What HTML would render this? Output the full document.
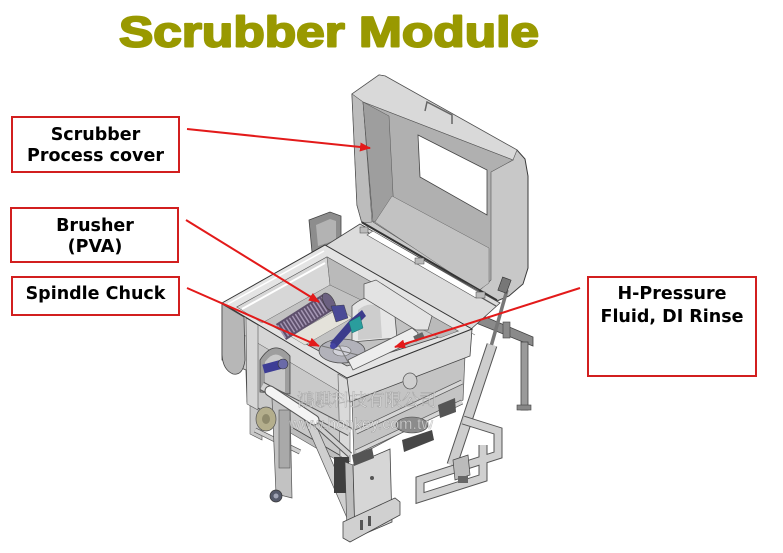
<!DOCTYPE html>
<html><head><meta charset="utf-8"><style>
html,body{margin:0;padding:0;background:#fff;}
svg{display:block;}
</style></head><body>
<svg width="783" height="553" viewBox="0 0 783 553" xmlns="http://www.w3.org/2000/svg">
<defs>
<marker id="ah" markerUnits="userSpaceOnUse" markerWidth="11" markerHeight="9" refX="10" refY="4.5" orient="auto">
<path d="M0,0 L11,4.5 L0,9 z" fill="#e31a1a"/>
</marker>
</defs>
<rect width="783" height="553" fill="#fff"/>

<!-- Title -->
<text x="119" y="46.5" font-family="Liberation Sans, Arial, sans-serif" font-weight="bold" font-size="43" fill="#999900" stroke="#999900" stroke-width="2" stroke-linejoin="round" textLength="420" lengthAdjust="spacingAndGlyphs">Scrubber Module</text>

<!-- back frames -->
<polygon points="309,220 330,212 341,216 341,246 312,252" fill="#8d8d8d" stroke="#444" stroke-width="0.8"/>
<polygon points="316,225 330,219 336,221 336,240 318,246" fill="#b3b3b3"/>
<polygon points="476,313 533,337 533,346 476,323" fill="#8a8a8a" stroke="#444" stroke-width="0.8"/>
<rect x="521" y="342" width="7" height="68" fill="#9a9a9a" stroke="#444" stroke-width="0.8"/>
<rect x="517" y="405" width="14" height="5" fill="#888" stroke="#444" stroke-width="0.6"/>
<rect x="503" y="322" width="7" height="16" fill="#8a8a8a" stroke="#444" stroke-width="0.6"/>

<!-- Lid -->
<polygon points="352,94 379,75 385,76 517,150 525,159 528,176 528,268 523,284 509,296 497,301 362,223 357,205" fill="#c8c8c8" stroke="#3a3a3a" stroke-width="1"/>
<polygon points="352,94 379,75 385,76 517,150 513,160 363,102" fill="#d9d9d9" stroke="#555" stroke-width="0.6"/>
<polygon points="352,94 363,102 372,222 362,223 357,205" fill="#bcbcbc" stroke="#555" stroke-width="0.5"/>
<polygon points="363,102 513,160 491,172 491,280 480,290 373,222" fill="#b0b0b0" stroke="#555" stroke-width="0.6"/>
<polygon points="363,102 389,116 394,213 373,222" fill="#9e9e9e" stroke="#555" stroke-width="0.5"/>
<polygon points="392,196 489,248 489,283 478,291 375,222" fill="#c2c2c2" stroke="#666" stroke-width="0.5"/>
<polygon points="418,135 487,170 487,215 420,177" fill="#fff" stroke="#444" stroke-width="0.8"/>
<polyline points="425,111 427,102 452,115 452,124" fill="none" stroke="#666" stroke-width="1.5"/>
<line x1="362" y1="222" x2="497" y2="300" stroke="#333" stroke-width="1.5"/>

<!-- platform -->
<polygon points="325,246 360,224 500,303 470,330" fill="#dcdcdc" stroke="#444" stroke-width="0.8"/>
<line x1="360" y1="228" x2="496" y2="306" stroke="#555" stroke-width="1.2"/>
<polygon points="367,235 373,231 482,294 476,298" fill="#fff" stroke="#555" stroke-width="0.6"/>
<rect x="360" y="227" width="8" height="6" fill="#bbb" stroke="#444" stroke-width="0.5"/>
<rect x="415" y="258" width="9" height="6" fill="#bbb" stroke="#444" stroke-width="0.5"/>
<rect x="476" y="292" width="9" height="6" fill="#bbb" stroke="#444" stroke-width="0.5"/>
<line x1="330" y1="252" x2="475" y2="335" stroke="#777" stroke-width="0.7"/>

<!-- under right face frame -->
<polygon points="352,400 465,355 463,400 354,458" fill="#c4c4c4" stroke="#555" stroke-width="0.7"/>
<polyline points="356,432 462,382" fill="none" stroke="#555" stroke-width="5"/>
<polyline points="356,432 462,382" fill="none" stroke="#d6d6d6" stroke-width="3.5"/>
<polyline points="356,452 462,402" fill="none" stroke="#555" stroke-width="5"/>
<polyline points="356,452 462,402" fill="none" stroke="#d6d6d6" stroke-width="3.5"/>
<ellipse cx="412" cy="425" rx="16" ry="8" fill="#8c8c8c" stroke="#444" stroke-width="0.6"/>
<polygon points="402,440 432,430 434,440 404,452" fill="#474747"/>
<polygon points="438,405 455,398 456,412 440,418" fill="#555"/>

<!-- lower-left frame under left face -->
<polygon points="258,395 340,442 340,462 258,414" fill="#bdbdbd" stroke="#555" stroke-width="0.6"/>
<polygon points="250,398 262,404 262,440 250,434" fill="#c8c8c8" stroke="#555" stroke-width="0.6"/>
<polyline points="255,430 300,452" fill="none" stroke="#555" stroke-width="5"/>
<polyline points="255,430 300,452" fill="none" stroke="#d0d0d0" stroke-width="3.5"/>

<!-- tub left face -->
<polygon points="222,303 347,378 348,460 300,432 258,408 247,402 246,370 222,360" fill="#c9c9c9" stroke="#444" stroke-width="0.8"/>
<polygon points="222,303 347,378 347,396 222,322" fill="#d6d6d6" stroke="#555" stroke-width="0.5"/>
<path d="M222,304 L244,317 L245,360 Q243,376 233,374 Q223,370 222,355 Z" fill="#b7b7b7" stroke="#444" stroke-width="0.8"/>
<polygon points="246,318 258,325 258,410 247,404" fill="#d6d6d6" stroke="#555" stroke-width="0.6"/>
<path d="M260,392 L260,360 Q274,338 290,356 L290,394 Z" fill="#9e9e9e" stroke="#444" stroke-width="0.8"/>
<path d="M265,390 L265,362 Q275,348 285,360 L285,392 Z" fill="#c9c9c9"/>
<rect x="263" y="362" width="20" height="9" fill="#3d3d96" transform="rotate(-15 273 366)"/>
<circle cx="283" cy="364" r="5" fill="#6a6aa8" stroke="#333" stroke-width="0.6"/>
<polygon points="338,374 350,381 350,462 340,456" fill="#dadada" stroke="#555" stroke-width="0.6"/>

<!-- tub right face -->
<polygon points="347,378 472,329 470,356 350,402" fill="#dadada" stroke="#444" stroke-width="0.8"/>
<ellipse cx="410" cy="381" rx="7" ry="8" fill="#cfcfcf" stroke="#555" stroke-width="0.7"/>

<!-- rim & interior -->
<polygon points="222,303 325,245 472,329 347,378" fill="#e4e4e4" stroke="#333" stroke-width="1"/>
<polygon points="237,307 327,257 458,331 347,366" fill="#c2c2c2" stroke="#444" stroke-width="0.8"/>
<polygon points="237,307 327,257 330,285 262,323" fill="#d7d7d7" stroke="#666" stroke-width="0.5"/>
<line x1="242" y1="309" x2="325" y2="263" stroke="#fff" stroke-width="2"/>
<line x1="228" y1="304" x2="324" y2="251" stroke="#fff" stroke-width="1.5"/>
<polygon points="327,257 458,331 440,338 330,285" fill="#bababa" stroke="#666" stroke-width="0.5"/>

<!-- interior parts -->
<polygon points="290,336 340,308 352,318 305,345" fill="#e4e2da" stroke="#777" stroke-width="0.5"/>
<line x1="281" y1="332" x2="328" y2="302" stroke="#5e506c" stroke-width="19"/>
<line x1="281" y1="332" x2="328" y2="302" stroke="#a597b4" stroke-width="15" stroke-dasharray="1.5 2"/>
<ellipse cx="329" cy="302" rx="5" ry="10" fill="#6b6080" stroke="#333" stroke-width="0.5" transform="rotate(-30 329 302)"/>
<polygon points="331,306 344,305 348,318 336,322" fill="#4a4a96" stroke="#333" stroke-width="0.4"/>
<path d="M352,342 L352,306 Q372,288 394,306 L397,338 Z" fill="#e6e6e6" stroke="#555" stroke-width="0.8"/>
<path d="M358,340 L358,310 Q370,300 380,308 L382,338 Z" fill="#cdcdcd"/>
<polygon points="364,284 376,280 432,316 428,330 416,330 364,298" fill="#e3e3e3" stroke="#555" stroke-width="0.7"/>
<ellipse cx="342" cy="351" rx="23" ry="12" fill="#b2b2ba" stroke="#555" stroke-width="0.8"/>
<ellipse cx="342" cy="351" rx="9" ry="5" fill="#d2d2da" stroke="#666" stroke-width="0.6"/>
<line x1="322" y1="346" x2="362" y2="356" stroke="#777" stroke-width="1"/>
<line x1="336" y1="340" x2="348" y2="362" stroke="#777" stroke-width="1"/>
<polygon points="330,343 350,320 362,310 366,316 352,330 336,348" fill="#3c3c8c"/>
<circle cx="333" cy="346" r="3" fill="#4444a4"/>
<polygon points="349,322 360,316 363,328 352,333" fill="#2a9d9d" stroke="#1c6a6a" stroke-width="0.5"/>
<polygon points="348,360 412,328 418,333 416,340 353,370" fill="#ededed" stroke="#555" stroke-width="0.8"/>
<rect x="414" y="334" width="10" height="6" fill="#666" transform="rotate(-25 419 337)"/>

<!-- lower structure -->
<polygon points="300,410 308,407 362,530 354,534" fill="#cfcfcf" stroke="#555" stroke-width="0.7"/>
<polyline points="262,386 350,432" fill="none" stroke="#555" stroke-width="9"/>
<polyline points="262,386 350,432" fill="none" stroke="#d2d2d2" stroke-width="7"/>
<polyline points="300,410 350,455" fill="none" stroke="#555" stroke-width="6"/>
<polyline points="300,410 350,455" fill="none" stroke="#d0d0d0" stroke-width="4"/>
<polygon points="272,398 290,405 292,498 276,494" fill="#c2c2c2" stroke="#555" stroke-width="0.7"/>
<rect x="279" y="410" width="11" height="58" fill="#a9a9a9" stroke="#555" stroke-width="0.6"/>
<circle cx="276" cy="496" r="6" fill="#555a6a" stroke="#333" stroke-width="0.7"/>
<circle cx="276" cy="496" r="2.5" fill="#a0a4b4"/>
<ellipse cx="266" cy="419" rx="10" ry="12" fill="#b4ae8c" stroke="#555" stroke-width="0.7"/>
<ellipse cx="266" cy="419" rx="4" ry="5" fill="#8f8a6c"/>
<line x1="270" y1="391" x2="314" y2="420" stroke="#555" stroke-width="11" stroke-linecap="round"/>
<line x1="270" y1="391" x2="314" y2="420" stroke="#f4f4f4" stroke-width="9" stroke-linecap="round"/>
<rect x="334" y="457" width="15" height="36" fill="#3e3e3e"/>
<polygon points="345,462 353,465 355,538 347,535" fill="#bdbdbd" stroke="#444" stroke-width="0.6"/>
<polygon points="353,465 390,449 392,522 355,538" fill="#d6d6d6" stroke="#444" stroke-width="0.8"/>
<circle cx="372" cy="478" r="2" fill="#555"/>
<polygon points="343,522 395,498 400,502 400,515 350,542 343,538" fill="#d0d0d0" stroke="#444" stroke-width="0.8"/>
<rect x="360" y="520" width="3" height="10" fill="#555"/>
<rect x="368" y="516" width="3" height="10" fill="#555"/>
<polygon points="352,455 372,448 374,458 354,466" fill="#555"/>

<!-- right strut and frame -->
<line x1="507" y1="290" x2="490" y2="350" stroke="#777" stroke-width="3.5"/>
<line x1="492" y1="345" x2="452" y2="465" stroke="#555" stroke-width="11"/>
<line x1="492" y1="345" x2="452" y2="465" stroke="#cdcdcd" stroke-width="9"/>
<rect x="500" y="278" width="9" height="14" fill="#777" stroke="#333" stroke-width="0.6" transform="rotate(20 504 285)"/>
<polyline points="463,420 498,431 498,455 420,480 420,498 483,478 483,445" fill="none" stroke="#555" stroke-width="9" stroke-linejoin="miter"/>
<polyline points="463,420 498,431 498,455 420,480 420,498 483,478 483,445" fill="none" stroke="#d0d0d0" stroke-width="7" stroke-linejoin="miter"/>
<polygon points="453,460 468,455 470,475 455,480" fill="#bbb" stroke="#444" stroke-width="0.7"/>
<rect x="458" y="476" width="10" height="7" fill="#666"/>

<!-- watermark -->
<text x="297" y="406" font-family="Noto Serif CJK SC, Noto Sans CJK TC, serif" font-size="17" fill="#ffffff" fill-opacity="0.6" stroke="#666" stroke-opacity="0.4" stroke-width="0.6" textLength="140" lengthAdjust="spacingAndGlyphs">鴻騏科技有限公司</text>
<text x="289" y="429" font-family="Liberation Sans, sans-serif" font-size="16" fill="#ffffff" fill-opacity="0.6" stroke="#666" stroke-opacity="0.4" stroke-width="0.6" textLength="144" lengthAdjust="spacingAndGlyphs">www.honkey.com.tw</text>

<!-- label boxes -->
<g fill="#fff" stroke="#d21f1f" stroke-width="2">
<rect x="12" y="117" width="167" height="55"/>
<rect x="11" y="208" width="167" height="54"/>
<rect x="12" y="277" width="167" height="38"/>
<rect x="588" y="277" width="168" height="99"/>
</g>
<g font-family="DejaVu Sans, Verdana, sans-serif" font-weight="bold" font-size="17.5" fill="#000" text-anchor="middle">
<text x="95.5" y="140">Scrubber</text>
<text x="95.5" y="161">Process cover</text>
<text x="95" y="231">Brusher</text>
<text x="95" y="252">(PVA)</text>
<text x="95.5" y="299">Spindle Chuck</text>
<text x="672" y="299">H-Pressure</text>
<text x="672" y="322">Fluid, DI Rinse</text>
</g>

<!-- arrows -->
<g stroke="#e31a1a" stroke-width="2" fill="none">
<line x1="187" y1="129" x2="370" y2="148" marker-end="url(#ah)"/>
<line x1="186" y1="220" x2="319" y2="302" marker-end="url(#ah)"/>
<line x1="187" y1="288" x2="319" y2="346" marker-end="url(#ah)"/>
<line x1="580" y1="288" x2="395" y2="347" marker-end="url(#ah)"/>
</g>
</svg>
</body></html>
